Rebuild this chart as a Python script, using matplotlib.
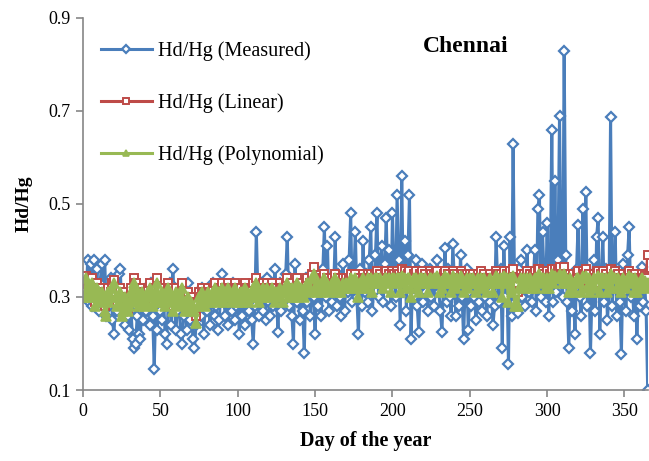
import matplotlib
matplotlib.use("Agg")
import matplotlib.pyplot as plt
import numpy as np

# daily Hd/Hg ratio for Chennai
measured = [
    0.34, 0.30, 0.38, 0.29, 0.37, 0.28, 0.38, 0.31, 0.36, 0.27,
    0.33, 0.37, 0.29, 0.38, 0.26, 0.31, 0.28, 0.34, 0.25, 0.22,
    0.30, 0.27, 0.35, 0.36, 0.28, 0.31, 0.24, 0.29, 0.26, 0.23,
    0.27, 0.21, 0.19, 0.20, 0.26, 0.22, 0.21, 0.29, 0.25, 0.31,
    0.27, 0.30, 0.24, 0.33, 0.26, 0.145, 0.29, 0.23, 0.31, 0.27,
    0.25, 0.30, 0.22, 0.20, 0.28, 0.33, 0.24, 0.36, 0.29, 0.23,
    0.27, 0.31, 0.22, 0.20, 0.26, 0.30, 0.23, 0.33, 0.25, 0.28,
    0.21, 0.19, 0.24, 0.28, 0.30, 0.26, 0.32, 0.22, 0.29, 0.27,
    0.31, 0.24, 0.29, 0.33, 0.26, 0.28, 0.23, 0.25, 0.31, 0.35,
    0.29, 0.26, 0.32, 0.24, 0.30, 0.27, 0.33, 0.25, 0.28, 0.30,
    0.22, 0.29, 0.26, 0.31, 0.24, 0.32, 0.27, 0.30, 0.25, 0.20,
    0.28, 0.44, 0.31, 0.26, 0.33, 0.27, 0.30, 0.25, 0.34, 0.29,
    0.26, 0.31, 0.28, 0.36, 0.30, 0.225, 0.33, 0.27, 0.31, 0.29,
    0.35, 0.43, 0.28, 0.32, 0.26, 0.20, 0.37, 0.29, 0.33, 0.25,
    0.31, 0.27, 0.18, 0.34, 0.29, 0.32, 0.26, 0.35, 0.30, 0.22,
    0.33, 0.28, 0.31, 0.26, 0.36, 0.45, 0.30, 0.41, 0.27, 0.34,
    0.29, 0.32, 0.43, 0.28, 0.35, 0.30, 0.26, 0.37, 0.27, 0.33,
    0.31, 0.38, 0.48, 0.29, 0.34, 0.44, 0.30, 0.22, 0.36, 0.28,
    0.42, 0.31, 0.35, 0.29, 0.38, 0.45, 0.27, 0.33, 0.39, 0.48,
    0.30, 0.36, 0.41, 0.29, 0.37, 0.47, 0.32, 0.40, 0.28, 0.48,
    0.35, 0.30, 0.52, 0.38, 0.24, 0.56, 0.31, 0.42, 0.27, 0.39,
    0.52, 0.21, 0.34, 0.30, 0.38, 0.28, 0.225, 0.33, 0.37, 0.29,
    0.35, 0.31, 0.27, 0.36, 0.30, 0.33, 0.28, 0.34, 0.38, 0.31,
    0.27, 0.225, 0.33, 0.405, 0.29, 0.36, 0.30, 0.26, 0.415, 0.34,
    0.26, 0.32, 0.28, 0.39, 0.30, 0.21, 0.33, 0.36, 0.23, 0.31,
    0.28, 0.34, 0.30, 0.25, 0.32, 0.29, 0.35, 0.27, 0.33, 0.30,
    0.26, 0.32, 0.29, 0.31, 0.24, 0.28, 0.43, 0.33, 0.29, 0.36,
    0.19, 0.41, 0.30, 0.34, 0.155, 0.43, 0.26, 0.63, 0.29, 0.33,
    0.265, 0.36, 0.38, 0.30, 0.34, 0.28, 0.40, 0.31, 0.35, 0.29,
    0.33, 0.40, 0.27, 0.49, 0.52, 0.30, 0.44, 0.34, 0.29, 0.46,
    0.26, 0.35, 0.66, 0.29, 0.55, 0.31, 0.38, 0.69, 0.33, 0.30,
    0.83, 0.39, 0.29, 0.19, 0.34, 0.27, 0.31, 0.22, 0.36, 0.455,
    0.30, 0.26, 0.49, 0.33, 0.525, 0.28, 0.35, 0.18, 0.31, 0.38,
    0.27, 0.43, 0.47, 0.22, 0.33, 0.43, 0.29, 0.36, 0.25, 0.31,
    0.687, 0.28, 0.34, 0.44, 0.26, 0.32, 0.29, 0.177, 0.37, 0.31,
    0.27, 0.39, 0.45, 0.30, 0.33, 0.26, 0.34, 0.21, 0.31, 0.28,
    0.365, 0.29, 0.33, 0.27, 0.10,
]

linear = [
    0.31, 0.345, 0.33, 0.30, 0.32, 0.34, 0.31, 0.29, 0.33, 0.32,
    0.30, 0.32, 0.31, 0.28, 0.29, 0.32, 0.30, 0.31, 0.33, 0.337,
    0.31, 0.29, 0.30, 0.32, 0.30, 0.28, 0.31, 0.30, 0.27, 0.29,
    0.32, 0.30, 0.34, 0.33, 0.31, 0.29, 0.30, 0.32, 0.31, 0.29,
    0.30, 0.32, 0.33, 0.31, 0.29, 0.30, 0.32, 0.34, 0.31, 0.30,
    0.32, 0.30, 0.29, 0.31, 0.33, 0.32, 0.30, 0.28, 0.31, 0.32,
    0.30, 0.29, 0.31, 0.33, 0.30, 0.28, 0.29, 0.31, 0.27, 0.30,
    0.29, 0.28, 0.26, 0.29, 0.31, 0.30, 0.32, 0.31, 0.29, 0.30,
    0.32, 0.31, 0.30, 0.32, 0.33, 0.31, 0.30, 0.32, 0.31, 0.33,
    0.30, 0.32, 0.31, 0.33, 0.32, 0.30, 0.31, 0.33, 0.32, 0.30,
    0.31, 0.32, 0.30, 0.31, 0.33, 0.32, 0.30, 0.31, 0.32, 0.33,
    0.31, 0.34, 0.32, 0.30, 0.31, 0.33, 0.32, 0.31, 0.33, 0.32,
    0.31, 0.33, 0.32, 0.30, 0.32, 0.31, 0.33, 0.32, 0.30, 0.32,
    0.33, 0.34, 0.31, 0.32, 0.33, 0.31, 0.32, 0.34, 0.31, 0.32,
    0.33, 0.32, 0.31, 0.33, 0.34, 0.32, 0.33, 0.35, 0.365, 0.33,
    0.32, 0.34, 0.33, 0.32, 0.34, 0.35, 0.33, 0.34, 0.32, 0.33,
    0.34, 0.33, 0.35, 0.32, 0.34, 0.33, 0.32, 0.34, 0.33, 0.34,
    0.33, 0.34, 0.35, 0.33, 0.34, 0.35, 0.33, 0.32, 0.34, 0.33,
    0.35, 0.34, 0.33, 0.35, 0.34, 0.35, 0.33, 0.34, 0.35, 0.355,
    0.34, 0.35, 0.34, 0.33, 0.35, 0.355, 0.34, 0.35, 0.33, 0.355,
    0.35, 0.34, 0.355, 0.35, 0.33, 0.36, 0.34, 0.355, 0.34, 0.35,
    0.355, 0.33, 0.34, 0.35, 0.355, 0.34, 0.33, 0.35, 0.355, 0.34,
    0.35, 0.34, 0.33, 0.355, 0.35, 0.34, 0.35, 0.355, 0.355, 0.34,
    0.33, 0.34, 0.35, 0.355, 0.34, 0.35, 0.34, 0.33, 0.355, 0.35,
    0.34, 0.35, 0.34, 0.355, 0.35, 0.33, 0.34, 0.35, 0.34, 0.35,
    0.34, 0.35, 0.34, 0.33, 0.35, 0.34, 0.355, 0.34, 0.35, 0.34,
    0.33, 0.34, 0.35, 0.34, 0.33, 0.34, 0.355, 0.35, 0.34, 0.35,
    0.33, 0.355, 0.34, 0.35, 0.33, 0.355, 0.34, 0.36, 0.32, 0.33,
    0.31, 0.34, 0.35, 0.34, 0.35, 0.34, 0.355, 0.34, 0.35, 0.34,
    0.35, 0.355, 0.34, 0.36, 0.36, 0.34, 0.355, 0.35, 0.34, 0.355,
    0.34, 0.35, 0.36, 0.34, 0.36, 0.35, 0.355, 0.365, 0.35, 0.34,
    0.365, 0.35, 0.34, 0.33, 0.35, 0.34, 0.35, 0.33, 0.35, 0.355,
    0.34, 0.33, 0.355, 0.35, 0.36, 0.34, 0.35, 0.33, 0.34, 0.35,
    0.34, 0.355, 0.355, 0.33, 0.35, 0.355, 0.34, 0.35, 0.33, 0.34,
    0.36, 0.34, 0.35, 0.355, 0.34, 0.35, 0.34, 0.33, 0.35, 0.34,
    0.34, 0.35, 0.355, 0.34, 0.35, 0.33, 0.35, 0.33, 0.34, 0.33,
    0.35, 0.34, 0.345, 0.34, 0.39,
]

polynomial = [
    0.30, 0.34, 0.32, 0.30, 0.31, 0.33, 0.30, 0.28, 0.32, 0.31,
    0.29, 0.31, 0.30, 0.27, 0.26, 0.31, 0.29, 0.30, 0.32, 0.33,
    0.30, 0.28, 0.29, 0.31, 0.26, 0.27, 0.30, 0.29, 0.27, 0.28,
    0.31, 0.29, 0.33, 0.32, 0.30, 0.28, 0.29, 0.31, 0.30, 0.28,
    0.29, 0.31, 0.32, 0.30, 0.28, 0.29, 0.31, 0.33, 0.30, 0.29,
    0.31, 0.29, 0.28, 0.30, 0.32, 0.31, 0.29, 0.27, 0.30, 0.31,
    0.29, 0.28, 0.30, 0.32, 0.29, 0.27, 0.28, 0.30, 0.27, 0.29,
    0.28, 0.27, 0.245, 0.28, 0.30, 0.29, 0.31, 0.30, 0.28, 0.29,
    0.31, 0.30, 0.29, 0.31, 0.32, 0.30, 0.29, 0.31, 0.30, 0.32,
    0.29, 0.31, 0.30, 0.32, 0.31, 0.29, 0.30, 0.32, 0.31, 0.29,
    0.30, 0.31, 0.29, 0.30, 0.32, 0.31, 0.29, 0.30, 0.31, 0.32,
    0.30, 0.33, 0.31, 0.29, 0.30, 0.32, 0.31, 0.30, 0.32, 0.31,
    0.30, 0.32, 0.31, 0.29, 0.31, 0.30, 0.32, 0.31, 0.29, 0.31,
    0.32, 0.33, 0.30, 0.31, 0.32, 0.30, 0.31, 0.33, 0.30, 0.31,
    0.32, 0.31, 0.30, 0.32, 0.33, 0.31, 0.32, 0.34, 0.35, 0.32,
    0.31, 0.33, 0.32, 0.31, 0.33, 0.34, 0.32, 0.33, 0.31, 0.32,
    0.33, 0.32, 0.34, 0.31, 0.33, 0.32, 0.31, 0.33, 0.32, 0.33,
    0.32, 0.33, 0.34, 0.32, 0.33, 0.34, 0.32, 0.30, 0.33, 0.32,
    0.34, 0.33, 0.32, 0.34, 0.33, 0.34, 0.31, 0.33, 0.34, 0.34,
    0.33, 0.34, 0.33, 0.32, 0.34, 0.34, 0.33, 0.34, 0.31, 0.34,
    0.34, 0.33, 0.34, 0.34, 0.31, 0.345, 0.33, 0.34, 0.32, 0.34,
    0.34, 0.30, 0.33, 0.34, 0.34, 0.32, 0.31, 0.34, 0.34, 0.33,
    0.34, 0.33, 0.31, 0.34, 0.34, 0.33, 0.34, 0.34, 0.345, 0.33,
    0.31, 0.32, 0.34, 0.345, 0.33, 0.34, 0.33, 0.31, 0.345, 0.34,
    0.32, 0.34, 0.33, 0.345, 0.34, 0.31, 0.33, 0.34, 0.32, 0.34,
    0.33, 0.34, 0.33, 0.31, 0.34, 0.33, 0.34, 0.32, 0.34, 0.33,
    0.31, 0.33, 0.34, 0.33, 0.31, 0.33, 0.345, 0.34, 0.33, 0.34,
    0.30, 0.345, 0.33, 0.34, 0.29, 0.34, 0.31, 0.345, 0.28, 0.29,
    0.28, 0.32, 0.34, 0.33, 0.34, 0.32, 0.34, 0.33, 0.34, 0.32,
    0.33, 0.34, 0.32, 0.345, 0.35, 0.33, 0.34, 0.34, 0.32, 0.34,
    0.32, 0.34, 0.35, 0.33, 0.345, 0.34, 0.34, 0.35, 0.34, 0.33,
    0.35, 0.34, 0.33, 0.31, 0.34, 0.32, 0.33, 0.31, 0.34, 0.34,
    0.33, 0.31, 0.345, 0.34, 0.345, 0.32, 0.34, 0.31, 0.33, 0.34,
    0.32, 0.34, 0.345, 0.31, 0.34, 0.34, 0.33, 0.34, 0.31, 0.33,
    0.35, 0.32, 0.34, 0.34, 0.32, 0.34, 0.33, 0.31, 0.34, 0.33,
    0.32, 0.34, 0.345, 0.33, 0.34, 0.31, 0.34, 0.31, 0.33, 0.32,
    0.34, 0.33, 0.335, 0.32, 0.33,
]

days = np.arange(1, len(measured) + 1)

blue = '#4a7ebb'
red = '#be4b48'
green = '#98b954'
grey = '#868686'

plt.rcParams['font.family'] = ['Liberation Serif', 'DejaVu Serif']

fig = plt.figure(figsize=(6.49, 4.61), dpi=100)
ax = fig.add_axes([0.128, 0.154, 0.87, 0.807])

ax.plot(days, measured, color=blue, lw=2.2, marker='D', ms=5.5,
        mfc='white', mec=blue, mew=1.6, label='Hd/Hg (Measured)')
ax.plot(days, linear, color=red, lw=2.2, marker='s', ms=6,
        mfc='white', mec=red, mew=1.4, label='Hd/Hg (Linear)')
ax.plot(days, polynomial, color=green, lw=2.2, marker='^', ms=6.5,
        mfc=green, mec=green, mew=1.2, label='Hd/Hg (Polynomial)')

ax.set_xlim(0, 365)
ax.set_ylim(0.1, 0.9)
ax.set_xticks(np.arange(0, 351, 50))
ax.set_yticks([0.1, 0.3, 0.5, 0.7, 0.9])
ax.set_yticklabels(['0.1', '0.3', '0.5', '0.7', '0.9'])

for side in ['top', 'right']:
    ax.spines[side].set_visible(False)
for side in ['left', 'bottom']:
    ax.spines[side].set_color(grey)
    ax.spines[side].set_linewidth(1.2)
ax.tick_params(direction='out', length=5, width=1.2, color=grey,
               labelsize=13, pad=4)

ax.set_xlabel('Day of the year', fontsize=14.5, fontweight='bold', labelpad=8)
ax.set_ylabel('Hd/Hg', fontsize=14, fontweight='bold', labelpad=11)

ax.text(0.678, 0.922, 'Chennai', transform=ax.transAxes, fontsize=17,
        fontweight='bold', ha='center', va='center')

ax.legend(loc='upper left', bbox_to_anchor=(0.0, 0.985), frameon=False,
          fontsize=14.5, handlelength=2.5, labelspacing=1.6, handletextpad=0.3,
          markerscale=0.7)

fig.savefig('out.png', dpi=100)
